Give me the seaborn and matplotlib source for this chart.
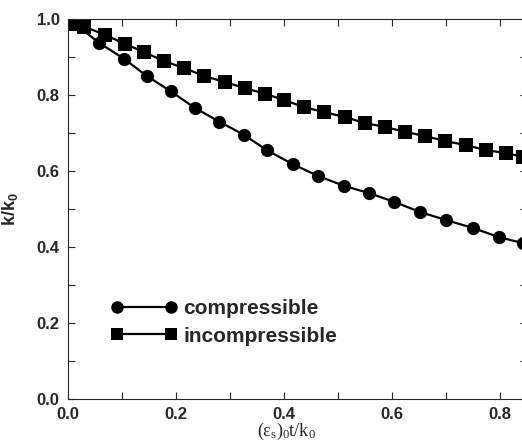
import pandas as pd
import matplotlib.pyplot as plt
import seaborn as sns

# compressible (circles)
comp_x = [0.013, 0.058, 0.104, 0.146, 0.190, 0.235, 0.280, 0.326, 0.368, 0.416,
          0.463, 0.511, 0.557, 0.604, 0.652, 0.700, 0.750, 0.798, 0.843]
comp_y = [0.987, 0.937, 0.895, 0.850, 0.810, 0.766, 0.730, 0.695, 0.655, 0.618,
          0.587, 0.561, 0.542, 0.519, 0.492, 0.471, 0.450, 0.426, 0.410]

# incompressible (squares)
incomp_x = [0.013, 0.030, 0.069, 0.106, 0.141, 0.178, 0.215, 0.252, 0.291, 0.328,
            0.365, 0.400, 0.437, 0.474, 0.513, 0.550, 0.587, 0.624, 0.661, 0.698,
            0.737, 0.774, 0.811, 0.843]
incomp_y = [0.988, 0.980, 0.958, 0.934, 0.913, 0.889, 0.871, 0.850, 0.834, 0.818,
            0.803, 0.787, 0.768, 0.755, 0.742, 0.726, 0.716, 0.703, 0.692, 0.679,
            0.668, 0.655, 0.647, 0.637]

df = pd.concat([
    pd.DataFrame({"x": comp_x, "y": comp_y, "kind": "compressible"}),
    pd.DataFrame({"x": incomp_x, "y": incomp_y, "kind": "incompressible"}),
])

sns.set_style("ticks")
plt.rcParams["font.family"] = ["Liberation Sans", "DejaVu Sans"]
plt.rcParams["mathtext.fontset"] = "custom"
plt.rcParams["mathtext.rm"] = "Liberation Serif"
plt.rcParams["mathtext.it"] = "Liberation Serif:italic"
plt.rcParams["mathtext.bf"] = "Liberation Sans:bold"

fig = plt.figure(figsize=(5.22, 4.44), dpi=100)
ax = fig.add_axes([68 / 522, 45 / 444, 459 / 522, 380 / 444])

sns.lineplot(data=df, x="x", y="y", hue="kind", style="kind",
             palette=["black", "black"], markers=["o", "s"], dashes=False,
             markersize=9.5, markeredgewidth=0, linewidth=1.6, ax=ax, sort=False)

ax.set_xlim(0, 0.85)
ax.set_ylim(0, 1.0)
ax.set_xticks([0.0, 0.2, 0.4, 0.6, 0.8])
ax.set_xticks([0.1, 0.3, 0.5, 0.7], minor=True)
ax.set_yticks([0.0, 0.2, 0.4, 0.6, 0.8, 1.0])
ax.set_yticks([0.1, 0.3, 0.5, 0.7, 0.9], minor=True)
ax.tick_params(which="both", direction="in", top=True, right=True,
               length=5, width=0.8, labelsize=12)
ax.tick_params(axis="x", pad=6)
ax.tick_params(axis="y", pad=6)
for lab in ax.get_xticklabels() + ax.get_yticklabels():
    lab.set_fontweight("bold")
for s in ax.spines.values():
    s.set_linewidth(0.8)

ax.set_xlabel(r"$\mathrm{(\epsilon_s)_0t/k_0}$", fontsize=13)
ax.xaxis.set_label_coords(0.477, -0.058)
ax.set_ylabel(r"$\mathbf{k/k_0}$", fontsize=13)
ax.yaxis.set_label_coords(-0.105, 0.5)

handles, labels = ax.get_legend_handles_labels()
for h in handles:
    h.set_markersize(9)
ax.legend(handles, labels, loc="center left", bbox_to_anchor=(0.052, 0.201),
          frameon=False, numpoints=2, handlelength=3.2, handletextpad=0.3,
          labelspacing=0.4, prop={"weight": "bold", "size": 15})

fig.savefig("out.png", dpi=100)
